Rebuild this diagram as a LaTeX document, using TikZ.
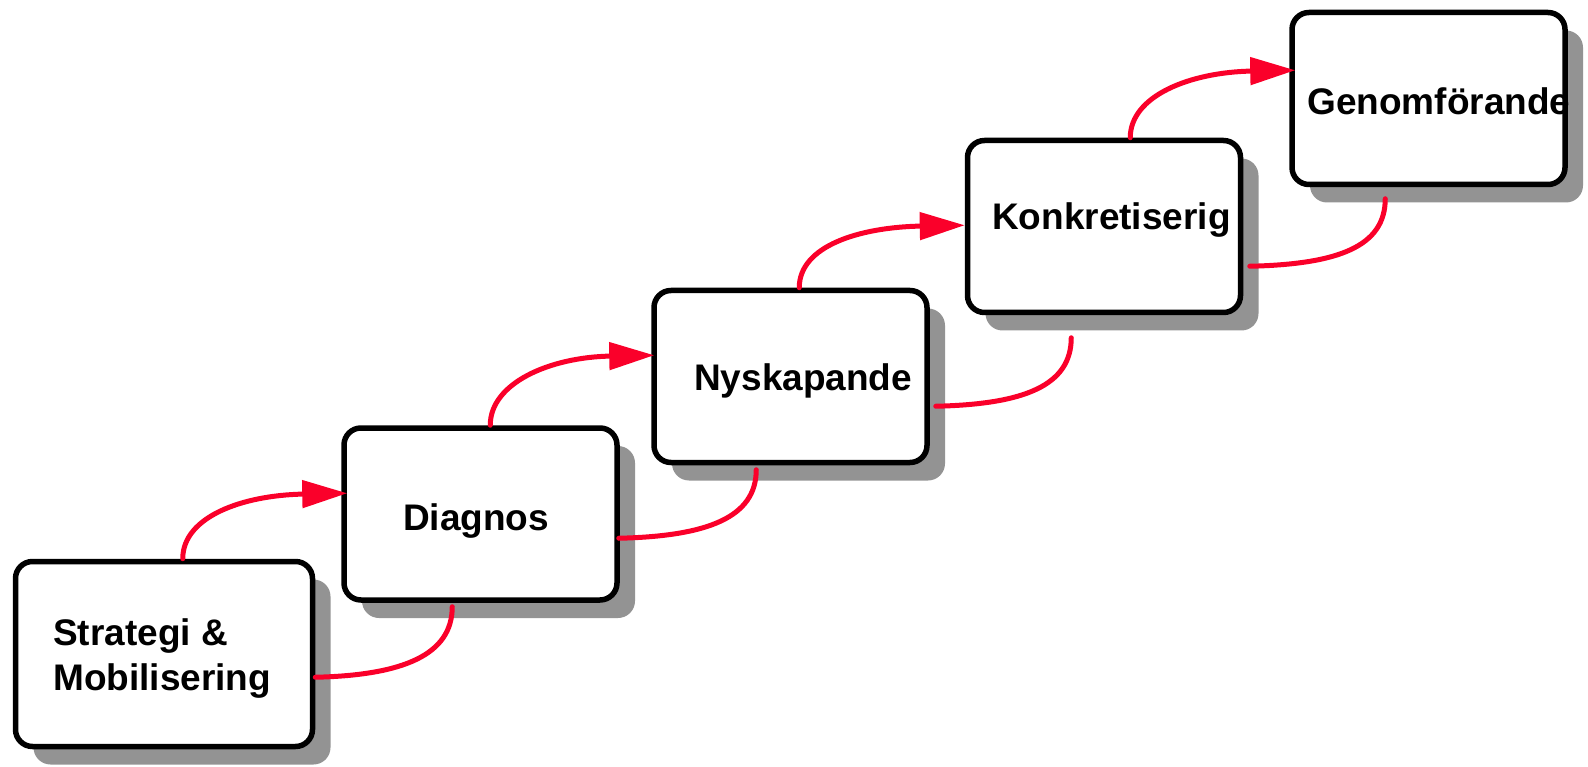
\documentclass[tikz,border=0pt]{standalone}
\usepackage{fontspec}
\setmainfont{Liberation Sans}
\usetikzlibrary{calc,arrows.meta,shadows}
\definecolor{shadowgray}{RGB}{147,147,147}
\definecolor{arrowred}{RGB}{250,0,42}
\begin{document}
\begin{tikzpicture}[x=1pt,y=-1pt,
 stagebox/.style={draw=black, line width=5.5pt, fill=white, rounded corners=17pt, inner sep=0pt,
   minimum width=273pt, minimum height=172pt,
   general shadow={fill=shadowgray, shadow xshift=18pt, shadow yshift=-18pt}},
 lbl/.style={anchor=base west, inner sep=0pt, font=\fontsize{37}{45}\selectfont\bfseries},
 flow/.style={draw=arrowred, line width=5pt, line cap=round},
 fwd/.style={flow, -{Triangle[length=45pt,width=27pt]}},
]
\useasboundingbox (0,0) rectangle (1588,767);
% boxes
\node[stagebox, minimum width=297pt, minimum height=185pt] (b1) at (164,654) {};
\node[stagebox] (b2) at (480.5,514) {};
\node[stagebox] (b3) at (790.5,376.5) {};
\node[stagebox] (b4) at (1104,226.5) {};
\node[stagebox] (b5) at (1428.5,98.5) {};
% labels
\node[lbl] (t1a) at (53,645) {Strategi \&};
\node[lbl] (t1b) at (53,690) {Mobilisering};
\node[lbl] (t2) at (403,530) {Diagnos};
\node[lbl] (t3) at (694,390) {Nyskapande};
\node[lbl] (t4) at (992,230) {Konkretiserig};
\node[lbl] (t5) at (1307,115) {Genomförande};
% forward arrows
\draw[fwd] ($(b1.north west)+(170,0)$) .. controls +(0,-42) and +(-105,2) .. ($(b2.north west)+(6,68)$);
\draw[fwd] ($(b2.north west)+(149,0)$) .. controls +(0,-42) and +(-105,2) .. ($(b3.north west)+(3,67.5)$);
\draw[fwd] ($(b3.north west)+(148,0)$) .. controls +(0,-42) and +(-105,2) .. ($(b4.north west)+(0,87.5)$);
\draw[fwd] ($(b4.north west)+(165.5,0)$) .. controls +(0,-42) and +(-105,2) .. ($(b5.north west)+(6,60.5)$);
% return curves
\draw[flow] ($(b2.south west)+(111,4)$) .. controls +(0,48) and +(88,-2) .. ($(b1.north east)+(0,118.5)$);
\draw[flow] ($(b3.south west)+(105,4.5)$) .. controls +(0,48) and +(88,-2) .. ($(b2.north east)+(-1,113)$);
\draw[flow] ($(b4.south west)+(106.5,22.5)$) .. controls +(0,48) and +(88,-2) .. ($(b3.north east)+(6,118.5)$);
\draw[flow] ($(b5.south west)+(96,11.5)$) .. controls +(0,48) and +(88,-2) .. ($(b4.north east)+(6.5,128.5)$);
\end{tikzpicture}
\end{document}
